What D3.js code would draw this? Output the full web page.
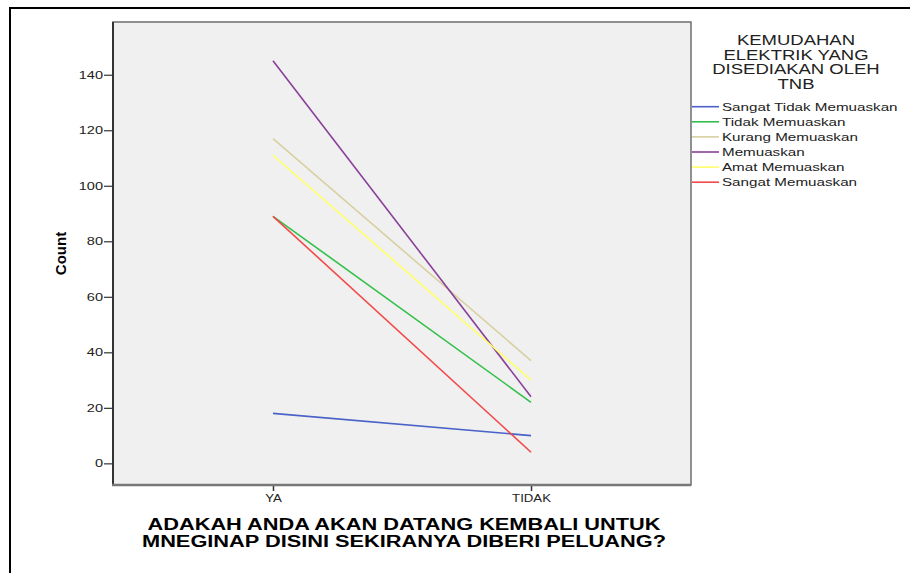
<!DOCTYPE html>
<html lang="en">
<head>
  <meta charset="UTF-8">
  <title>Count by ADAKAH ANDA AKAN DATANG KEMBALI</title>
  <script src="https://d3js.org/d3.v7.min.js"></script>
  <style>
    body { margin: 0; padding: 0; background: #fff; font-family: "Liberation Sans", Arial, sans-serif; }
    svg { display: block; }
    .tick text { fill: #222; }
  </style>
</head>
<body>
  <div id="chart"></div>
  <script>
    // data
    const answers = ["YA", "TIDAK"];
    const seriesNames = [
      "Sangat Tidak Memuaskan",
      "Tidak Memuaskan",
      "Kurang Memuaskan",
      "Memuaskan",
      "Amat Memuaskan",
      "Sangat Memuaskan"
    ];
    const seriesColors = ["#4a62c8", "#33c04a", "#d8d0a0", "#8a3f98", "#ffff66", "#f24a4a"];
    const yaCounts    = [18, 89, 117, 145, 111, 89];
    const tidakCounts = [10, 22, 37, 24, 30, 4];
    const yTicks = [0, 20, 40, 60, 80, 100, 120, 140];
    const legendTitle = ["KEMUDAHAN", "ELEKTRIK YANG", "DISEDIAKAN OLEH", "TNB"];
    const xTitle = ["ADAKAH ANDA AKAN DATANG KEMBALI UNTUK", "MNEGINAP DISINI SEKIRANYA DIBERI PELUANG?"];

    const W = 910, H = 573;
    const plot = { left: 113, top: 22, right: 691, bottom: 485 };
    const stretchK = 1.32; // text in the picture is wider than plain Arial

    // widen a text selection horizontally, keeping its anchor
    function stretch(sel, k) {
      sel.each(function() {
        const w = this.getComputedTextLength();
        d3.select(this).attr("textLength", w * k).attr("lengthAdjust", "spacingAndGlyphs");
      });
    }

    const svg = d3.select("#chart").append("svg")
      .attr("width", W).attr("height", H);

    // outer frame (top + left only)
    svg.append("path")
      .attr("d", `M10,${H} L10,8 L${W},8`)
      .attr("fill", "none").attr("stroke", "#000").attr("stroke-width", 2);

    const x = d3.scalePoint()
      .domain(answers)
      .range([plot.left, plot.right])
      .padding(0.62);

    const y = d3.scaleLinear()
      .domain([-7.8, 159])
      .range([plot.bottom, plot.top]);

    // plot background
    svg.append("rect")
      .attr("x", plot.left).attr("y", plot.top)
      .attr("width", plot.right - plot.left)
      .attr("height", plot.bottom - plot.top)
      .attr("fill", "#f0f0f0")
      .attr("stroke", "#6e6e6e").attr("stroke-width", 1.5);

    // lines
    const series = seriesNames.map((name, i) => ({
      name, color: seriesColors[i],
      values: [yaCounts[i], tidakCounts[i]]
    }));
    const line = d3.line()
      .x((d, i) => x(answers[i]))
      .y(d => y(d));

    svg.append("g")
      .selectAll("path")
      .data(series)
      .enter().append("path")
        .attr("d", d => line(d.values))
        .attr("fill", "none")
        .attr("stroke", d => d.color)
        .attr("stroke-width", 1.6);

    // y axis
    const yAxis = svg.append("g")
      .attr("transform", `translate(${plot.left},0)`)
      .call(d3.axisLeft(y).tickValues(yTicks).tickSize(9).tickPadding(1));
    yAxis.select(".domain").remove();
    yAxis.selectAll(".tick line").attr("stroke", "#333").attr("stroke-width", 1.2);
    yAxis.selectAll(".tick text")
      .style("font-size", "11px").style("font-family", "Liberation Sans, Arial, sans-serif")
      .call(stretch, stretchK);
    svg.append("line")
      .attr("x1", plot.left).attr("x2", plot.left)
      .attr("y1", plot.top).attr("y2", plot.bottom + 1)
      .attr("stroke", "#333").attr("stroke-width", 2);

    // x axis
    const xAxis = svg.append("g")
      .attr("transform", `translate(0,${plot.bottom})`)
      .call(d3.axisBottom(x).tickSize(6).tickPadding(4));
    xAxis.select(".domain").remove();
    xAxis.selectAll(".tick line").attr("stroke", "#333").attr("stroke-width", 1.5);
    xAxis.selectAll(".tick text")
      .style("font-size", "10px").style("font-family", "Liberation Sans, Arial, sans-serif")
      .call(stretch, stretchK);
    svg.append("line")
      .attr("x1", plot.left - 1).attr("x2", plot.right)
      .attr("y1", plot.bottom).attr("y2", plot.bottom)
      .attr("stroke", "#777").attr("stroke-width", 2.5);

    // axis titles
    svg.append("text")
      .attr("transform", `translate(66,${(plot.top + plot.bottom) / 2}) rotate(-90)`)
      .attr("text-anchor", "middle")
      .style("font-size", "15px").style("font-weight", "bold")
      .text("Count");

    svg.append("g").selectAll("text")
      .data(xTitle)
      .enter().append("text")
        .attr("x", (plot.left + plot.right) / 2 + 2)
        .attr("y", (d, i) => 530 + i * 17)
        .attr("text-anchor", "middle")
        .style("font-size", "16px").style("font-weight", "bold")
        .text(d => d)
        .call(stretch, 1.36);

    // legend
    svg.append("g").selectAll("text")
      .data(legendTitle)
      .enter().append("text")
        .attr("x", 796)
        .attr("y", (d, i) => 45 + i * 14.5)
        .attr("text-anchor", "middle")
        .style("font-size", "14px").style("fill", "#222")
        .text(d => d)
        .call(stretch, stretchK);

    const leg = svg.append("g").selectAll("g")
      .data(series)
      .enter().append("g")
        .attr("transform", (d, i) => `translate(692,${106.7 + i * 15.1})`);
    leg.append("line")
      .attr("x1", 0).attr("x2", 27)
      .attr("stroke", d => d.color).attr("stroke-width", 1.6);
    leg.append("text")
      .attr("x", 30).attr("dy", "0.35em")
      .style("font-size", "11.5px").style("fill", "#222")
      .text(d => d.name)
      .call(stretch, stretchK);
  </script>
</body>
</html>
